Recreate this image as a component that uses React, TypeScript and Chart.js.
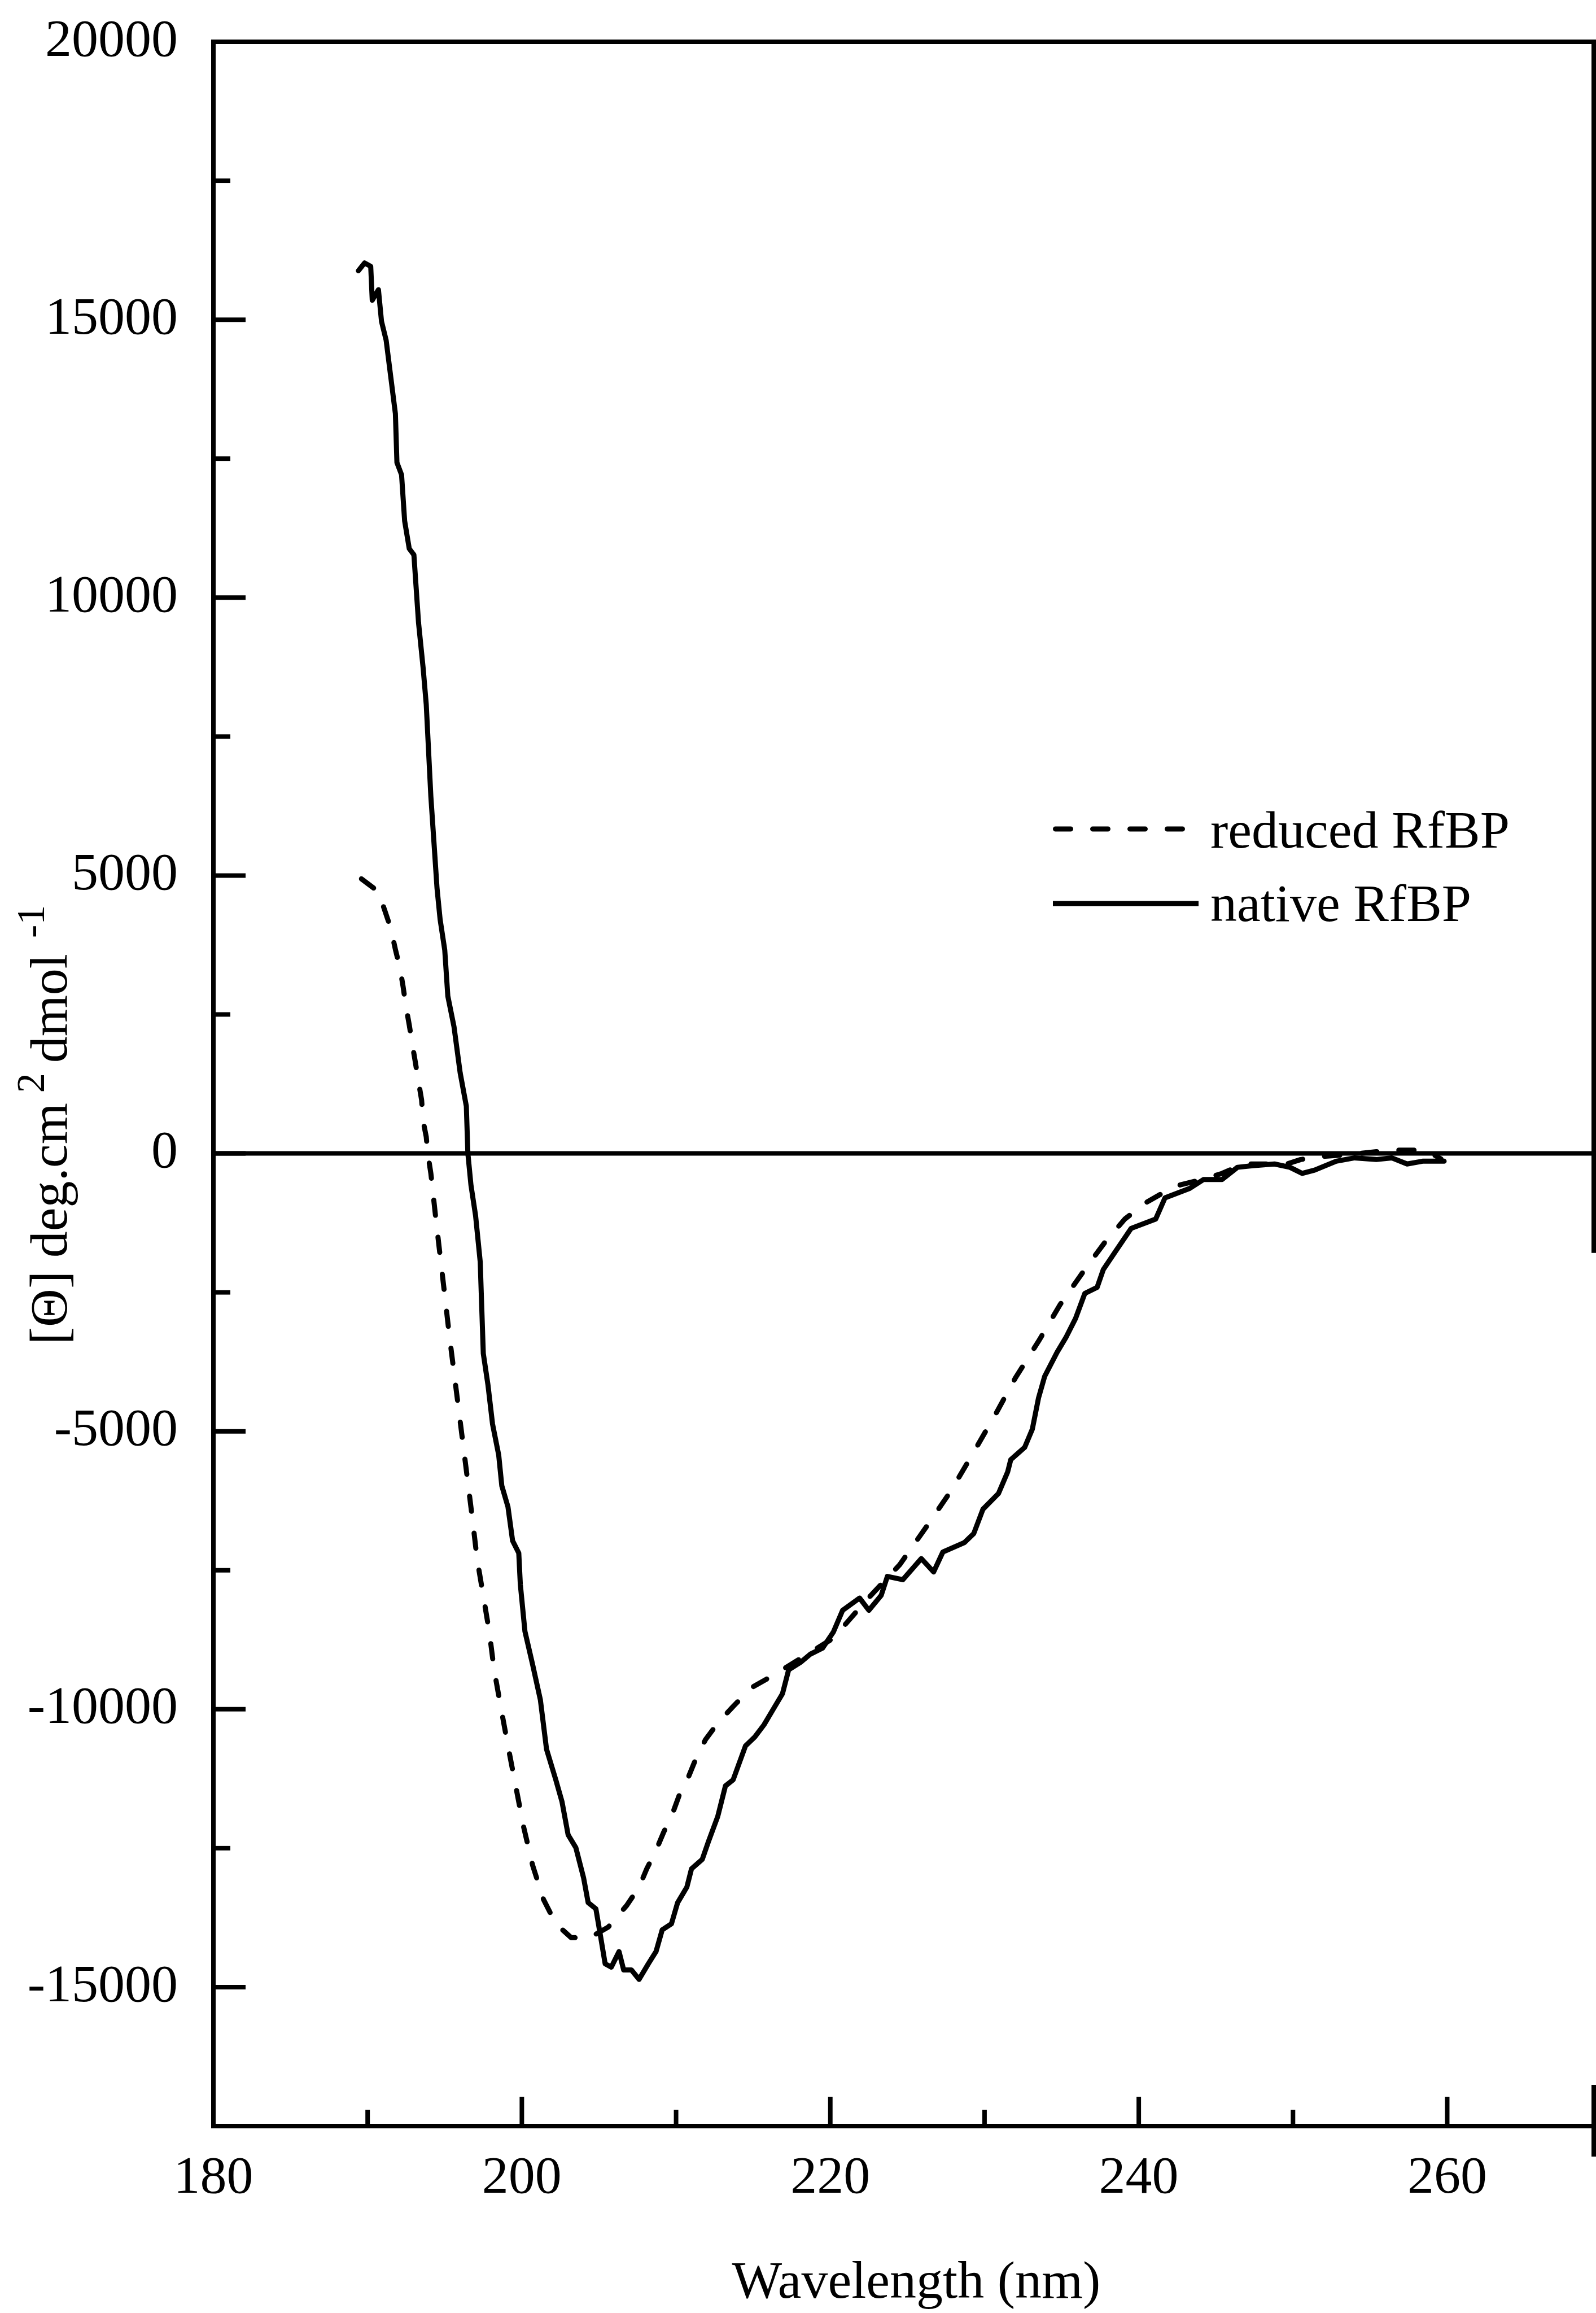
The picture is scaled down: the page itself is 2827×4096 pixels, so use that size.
import React, { useEffect, useRef } from 'react';
import { Chart, registerables } from 'chart.js';

Chart.register(...registerables);

// ---------------- data ----------------
const nativeWavelength = [
  189.4, 189.8, 190.2, 190.3, 190.7, 190.9, 191.2, 191.5, 191.8, 191.9,
  192.2, 192.4, 192.7, 193.0, 193.3, 193.6, 193.8, 194.1, 194.3, 194.5,
  194.7, 195.0, 195.2, 195.6, 196.0, 196.4, 196.5, 196.7, 197.0, 197.3,
  197.4, 197.5, 197.8, 198.1, 198.5, 198.7, 199.1, 199.4, 199.8, 199.9,
  200.2, 200.7, 201.2, 201.6, 202.2, 202.6, 203.0, 203.5, 204.0, 204.3,
  204.8, 205.1, 205.4, 205.8, 206.3, 206.6, 207.1, 207.6, 208.2, 208.7,
  209.1, 209.7, 210.1, 210.7, 211.0, 211.7, 212.1, 212.7, 213.2, 213.7,
  214.5, 215.1, 215.7, 216.3, 216.9, 217.3, 218.1, 218.7, 219.5, 220.2,
  220.8, 221.9, 222.5, 223.3, 223.7, 224.7, 225.9, 226.7, 227.3, 228.7,
  229.3, 229.9, 230.9, 231.5, 231.7, 232.6, 233.1, 233.5, 233.9, 234.7,
  235.3, 235.9, 236.5, 237.3, 237.7, 238.5, 239.5, 241.1, 241.7, 243.3,
  244.2, 245.4, 246.4, 247.4, 248.8, 249.8, 250.6, 251.4, 252.8, 254.0,
  255.4, 256.4, 257.4, 258.4, 259.8,
];
const nativeEllipticity = [
  15880, 16020, 15960, 15350, 15540, 14970, 14630, 13970, 13310, 12430,
  12210, 11380, 10880, 10770, 9550, 8730, 8080, 6420, 5600, 4770,
  4210, 3660, 2830, 2280, 1450, 850, 0, -570, -1120, -1950,
  -2780, -3600, -4160, -4870, -5430, -5980, -6360, -6970, -7190, -7750,
  -8600, -9200, -9830, -10720, -11270, -11660, -12260, -12490, -13030, -13480,
  -13590, -14080, -14580, -14640, -14360, -14690, -14690, -14860, -14580, -14360,
  -13970, -13860, -13480, -13200, -12870, -12700, -12380, -11930, -11380, -11270,
  -10660, -10500, -10280, -10000, -9720, -9290, -9150, -9010, -8900, -8610,
  -8220, -8000, -8220, -7950, -7610, -7670, -7290, -7530, -7170, -7000,
  -6840, -6400, -6120, -5730, -5510, -5290, -4960, -4400, -4010, -3580,
  -3300, -2970, -2520, -2410, -2090, -1760, -1350, -1180, -800, -630,
  -470, -470, -250, -220, -190, -250, -360, -300, -140, -80,
  -110, -80, -190, -140, -140,
];

const reducedWavelength = [
  189.6, 190.7, 191.1, 191.5, 191.8, 192.1, 192.3, 192.5, 192.7, 192.9,
  193.1, 193.3, 193.5, 193.6, 193.8, 193.9, 194.1, 194.4, 194.7, 195.0,
  195.3, 195.6, 195.9, 196.2, 196.5, 196.8, 197.1, 197.5, 197.9, 198.2,
  198.7, 199.1, 199.6, 200.1, 200.7, 201.4, 202.2, 203.2, 204.4, 205.6,
  206.8, 207.6, 208.1, 208.7, 209.2, 209.7, 210.2, 210.8, 211.3, 211.9,
  212.7, 213.7, 214.9, 216.3, 218.0, 220.2, 222.3, 224.5, 226.3, 227.8,
  229.2, 230.7, 232.0, 233.5, 234.9, 236.6, 237.8, 239.1, 240.5, 241.7,
  242.5, 244.1, 245.4, 246.8, 248.4, 249.6, 250.5, 252.1, 253.7, 255.4,
  256.8, 257.9, 258.8, 259.6,
];
const reducedEllipticity = [
  4940, 4710, 4380, 4050, 3670, 3330, 3000, 2620, 2310, 1960,
  1630, 1290, 960, 580, 300, 0, -360, -1120, -1840, -2550,
  -3280, -3940, -4600, -5260, -5920, -6590, -7300, -7960, -8630, -9290,
  -10060, -10660, -11380, -12100, -12810, -13420, -13860, -14110, -14110, -13920,
  -13530, -13200, -12870, -12540, -12210, -11930, -11550, -11220, -10880, -10550,
  -10250, -9950, -9610, -9390, -9100, -8720, -8050, -7400, -6690, -6080,
  -5420, -4700, -4040, -3380, -2720, -2050, -1600, -1180, -880, -690,
  -580, -470, -360, -190, -190, -190, -110, -50, -20, 30,
  60, 60, 30, -100,
];

const seriesLabels = ['reduced RfBP', 'native RfBP'];
const xLabelValues = [180, 200, 220, 240, 260];
const yLabelValues = [20000, 15000, 10000, 5000, 0, -5000, -10000, -15000];
const xAxisTitle = 'Wavelength (nm)';
const yTitleMain1 = '[\u0398] deg.cm';
const yTitleSup1 = '2';
const yTitleMain2 = 'dmol';
const yTitleSup2 = '-1';

// ---------------- layout / style ----------------
const W = 2827;
const H = 4096;
const AREA_LEFT = 378;
const AREA_TOP = 74;
const AREA_BOTTOM = 3765;
const AREA_RIGHT = 2823;
const X_MIN = 180;
const X_MAX = 269.5;
const Y_MIN = -17500;
const Y_MAX = 20000;
const FONT = '"Liberation Serif", "Times New Roman", serif';
const FONT_SIZE = 94;
const SUP_SIZE = 70;
const LINE_W = 9;
const AXIS_W = 8;
const DASH = [27, 39];

const framePlugin = {
  id: 'frame',
  beforeDatasetsDraw(chart: any) {
    const { ctx, chartArea: a, scales } = chart;
    const xs = scales.x;
    const ys = scales.y;
    ctx.save();
    ctx.strokeStyle = '#000';
    ctx.lineWidth = AXIS_W;
    ctx.lineCap = 'square';
    ctx.setLineDash([]);
    // top, left, bottom
    ctx.beginPath();
    ctx.moveTo(a.right, a.top);
    ctx.lineTo(a.left, a.top);
    ctx.lineTo(a.left, a.bottom);
    ctx.lineTo(a.right + 4, a.bottom);
    ctx.stroke();
    // right border (partially visible in the scan)
    ctx.beginPath();
    ctx.moveTo(a.right, a.top);
    ctx.lineTo(a.right, ys.getPixelForValue(-1750));
    ctx.moveTo(a.right, ys.getPixelForValue(-16800));
    ctx.lineTo(a.right, a.bottom + 50);
    ctx.stroke();
    // zero line
    ctx.beginPath();
    const y0 = ys.getPixelForValue(0);
    ctx.moveTo(a.left, y0);
    ctx.lineTo(a.right + 4, y0);
    ctx.stroke();
    // inward ticks
    ctx.lineCap = 'butt';
    ys.ticks.forEach((t: any) => {
      if (t.value <= ys.min || t.value >= ys.max) return;
      const major = t.value % 5000 === 0;
      const len = major ? 57 : 30;
      const py = ys.getPixelForValue(t.value);
      ctx.beginPath();
      ctx.moveTo(a.left, py);
      ctx.lineTo(a.left + len, py);
      ctx.stroke();
    });
    xs.ticks.forEach((t: any) => {
      if (t.value <= xs.min || t.value >= xs.max) return;
      const major = t.value % 20 === 0;
      const len = major ? 52 : 29;
      const px = xs.getPixelForValue(t.value);
      ctx.beginPath();
      ctx.moveTo(px, a.bottom);
      ctx.lineTo(px, a.bottom - len);
      ctx.stroke();
    });
    ctx.restore();
  },
};

const textPlugin = {
  id: 'texts',
  afterDraw(chart: any) {
    const ctx = chart.ctx;
    ctx.save();
    ctx.fillStyle = '#000';
    ctx.strokeStyle = '#000';

    // x axis title
    ctx.font = `${FONT_SIZE}px ${FONT}`;
    ctx.textAlign = 'center';
    ctx.textBaseline = 'alphabetic';
    ctx.fillText(xAxisTitle, 1623, 4069);

    // y axis title with superscripts
    const mainFont = `${FONT_SIZE}px ${FONT}`;
    const supFont = `${SUP_SIZE}px ${FONT}`;
    const parts = [
      { t: yTitleMain1, sup: false, gap: 0 },
      { t: yTitleSup1, sup: true, gap: 18 },
      { t: yTitleMain2, sup: false, gap: 18 },
      { t: yTitleSup2, sup: true, gap: 28 },
    ];
    let total = 0;
    const widths = parts.map((p) => {
      ctx.font = p.sup ? supFont : mainFont;
      const w = ctx.measureText(p.t).width;
      total += w + p.gap;
      return w;
    });
    ctx.save();
    ctx.translate(118, 1992);
    ctx.rotate(-Math.PI / 2);
    ctx.textAlign = 'left';
    let cx = -total / 2;
    parts.forEach((p, i) => {
      cx += p.gap;
      ctx.font = p.sup ? supFont : mainFont;
      ctx.fillText(p.t, cx, p.sup ? -40 : 0);
      cx += widths[i];
    });
    ctx.restore();

    // legend
    const rows = [
      { lineY: 1468, x0: 1865, x1: 2099, baseY: 1501 },
      { lineY: 1600, x0: 1865, x1: 2123, baseY: 1631 },
    ];
    chart.data.datasets.forEach((ds: any, i: number) => {
      const r = rows[i];
      ctx.lineWidth = ds.borderWidth;
      ctx.setLineDash(ds.borderDash || []);
      ctx.lineCap = ds.borderDash ? 'round' : 'butt';
      const off = ds.borderDash ? LINE_W / 2 : 0;
      ctx.beginPath();
      ctx.moveTo(r.x0 + off, r.lineY);
      ctx.lineTo(r.x1, r.lineY);
      ctx.stroke();
      ctx.setLineDash([]);
      ctx.font = mainFont;
      ctx.textAlign = 'left';
      ctx.textBaseline = 'alphabetic';
      ctx.fillText(ds.label, 2144, r.baseY);
    });
    ctx.restore();
  },
};

export default function App() {
  const ref = useRef<HTMLCanvasElement | null>(null);

  useEffect(() => {
    const canvas = ref.current;
    if (!canvas) return;
    const tickFont = { family: FONT, size: FONT_SIZE, lineHeight: 1.2 };
    const chart = new Chart(canvas, {
      type: 'line',
      data: {
        datasets: [
          {
            label: seriesLabels[0],
            data: reducedWavelength.map((x, i) => ({ x, y: reducedEllipticity[i] })),
            borderColor: '#000',
            borderWidth: LINE_W,
            borderDash: DASH,
            borderCapStyle: 'round',
            borderJoinStyle: 'round',
            pointRadius: 0,
            fill: false,
            tension: 0,
          },
          {
            label: seriesLabels[1],
            data: nativeWavelength.map((x, i) => ({ x, y: nativeEllipticity[i] })),
            borderColor: '#000',
            borderWidth: LINE_W,
            borderCapStyle: 'round',
            borderJoinStyle: 'round',
            pointRadius: 0,
            fill: false,
            tension: 0,
          },
        ],
      } as any,
      options: {
        responsive: false,
        animation: false,
        devicePixelRatio: 1,
        layout: { padding: { top: AREA_TOP, right: W - AREA_RIGHT, left: 0, bottom: 0 } },
        plugins: {
          legend: { display: false },
          tooltip: { enabled: false },
          title: { display: false },
        },
        scales: {
          x: {
            type: 'linear',
            min: X_MIN,
            max: X_MAX,
            grid: { display: false, drawTicks: false },
            border: { display: false },
            ticks: {
              stepSize: 10,
              includeBounds: false,
              autoSkip: false,
              maxRotation: 0,
              minRotation: 0,
              padding: 37,
              color: '#000',
              font: tickFont,
              callback: (v: any) => (xLabelValues.includes(Number(v)) ? String(v) : ''),
            },
            afterFit: (s: any) => {
              s.height = H - AREA_BOTTOM;
              s.paddingLeft = 0;
              s.paddingRight = 0;
            },
          },
          y: {
            type: 'linear',
            min: Y_MIN,
            max: Y_MAX,
            grid: { display: false, drawTicks: false },
            border: { display: false },
            ticks: {
              stepSize: 2500,
              autoSkip: false,
              padding: 63,
              color: '#000',
              font: tickFont,
              callback: (v: any) => (yLabelValues.includes(Number(v)) ? String(v) : ''),
            },
            afterFit: (s: any) => {
              s.width = AREA_LEFT;
              s.paddingTop = 0;
              s.paddingBottom = 0;
            },
          },
        },
      } as any,
      plugins: [framePlugin, textPlugin],
    });
    return () => chart.destroy();
  }, []);

  return (
    <div style={{ position: 'absolute', left: 0, top: 0, width: W, height: H, background: '#fff' }}>
      <canvas ref={ref} width={W} height={H} style={{ width: W, height: H, display: 'block' }} />
    </div>
  );
}
